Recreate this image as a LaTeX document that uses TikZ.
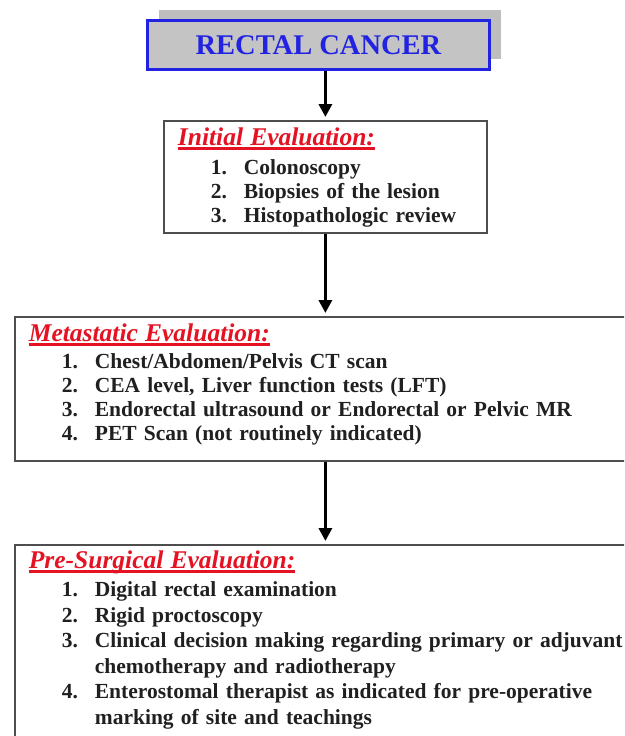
\documentclass[tikz,border=0pt]{standalone}
\usepackage{fontspec}
\setmainfont{Liberation Serif}
\usetikzlibrary{arrows.meta, positioning, shadows}

\definecolor{rcblue}{RGB}{34,34,226}
\definecolor{rcgray}{RGB}{196,196,196}
\definecolor{rcshadow}{RGB}{190,190,190}
\definecolor{headred}{RGB}{228,18,34}
\definecolor{boxline}{RGB}{78,78,78}
\definecolor{itemtext}{RGB}{32,32,32}

% red heading, underlined
\newcommand{\evalhead}[1]{{\fontsize{25.5pt}{24pt}\selectfont\bfseries\itshape\color{headred}\setbox0\hbox{#1}\rlap{\rule[-4pt]{\wd0}{2.5pt}}\box0}}
% numbered line
\newcommand{\evitem}[2]{\hspace*{33pt}\makebox[33pt][l]{#1}#2}

\begin{document}
\begin{tikzpicture}[x=1pt, y=-1pt,
    titlebox/.style={rectangle, draw=rcblue, line width=3.3pt, fill=rcgray, minimum width=342pt, minimum height=49pt, font=\bfseries\fontsize{28.5pt}{30pt}\selectfont, text=rcblue, drop shadow={shadow xshift=11pt, shadow yshift=11pt, fill=rcshadow, opacity=1}},
    evalbox/.style={rectangle, draw=boxline, line width=1.8pt, fill=white, anchor=north west, align=left, inner xsep=14pt, inner ysep=8pt, text=itemtext, font=\bfseries\fontsize{21.5pt}{24pt}\selectfont},
    flowarrow/.style={-{Triangle[width=13pt, length=13pt]}, line width=3.5pt, shorten >=3pt}
]
\clip (0,0) rectangle (624,736);

\node[titlebox] (rc) at (318.5,45) {RECTAL CANCER};

\node[evalbox, text width=295pt, text height=17pt, text depth=79pt] (init) at (163,120) {\evalhead{Initial Evaluation:}\\[5pt]
  \evitem{1.}{Colonoscopy}\\
  \evitem{2.}{Biopsies of the lesion}\\
  \evitem{3.}{Histopathologic review}};

\node[evalbox, text width=620pt, text height=17pt, text depth=111pt] (meta) at (14,316) {\evalhead{Metastatic Evaluation:}\\[3pt]
  \evitem{1.}{Chest/Abdomen/Pelvis CT scan}\\
  \evitem{2.}{CEA level, Liver function tests (LFT)}\\
  \evitem{3.}{Endorectal ultrasound or Endorectal or Pelvic MR}\\
  \evitem{4.}{PET Scan (not routinely indicated)}};

\node[evalbox, text width=620pt, text height=16pt, text depth=220pt, font=\bfseries\fontsize{21.5pt}{25.5pt}\selectfont] (pre) at (14,544) {\evalhead{Pre-Surgical Evaluation:}\\[2.5pt]
  \evitem{1.}{Digital rectal examination}\\
  \evitem{2.}{Rigid proctoscopy}\\
  \evitem{3.}{Clinical decision making regarding primary or adjuvant}\\
  \hspace*{66pt}chemotherapy and radiotherapy\\
  \evitem{4.}{Enterostomal therapist as indicated for pre-operative}\\
  \hspace*{66pt}marking of site and teachings};

\draw[flowarrow] (init.north |- rc.south) -- (init.north);
\draw[flowarrow] (init.south) -- (init.south |- meta.north);
\draw[flowarrow] (init.south |- meta.south) -- (init.south |- pre.north);
\end{tikzpicture}
\end{document}
